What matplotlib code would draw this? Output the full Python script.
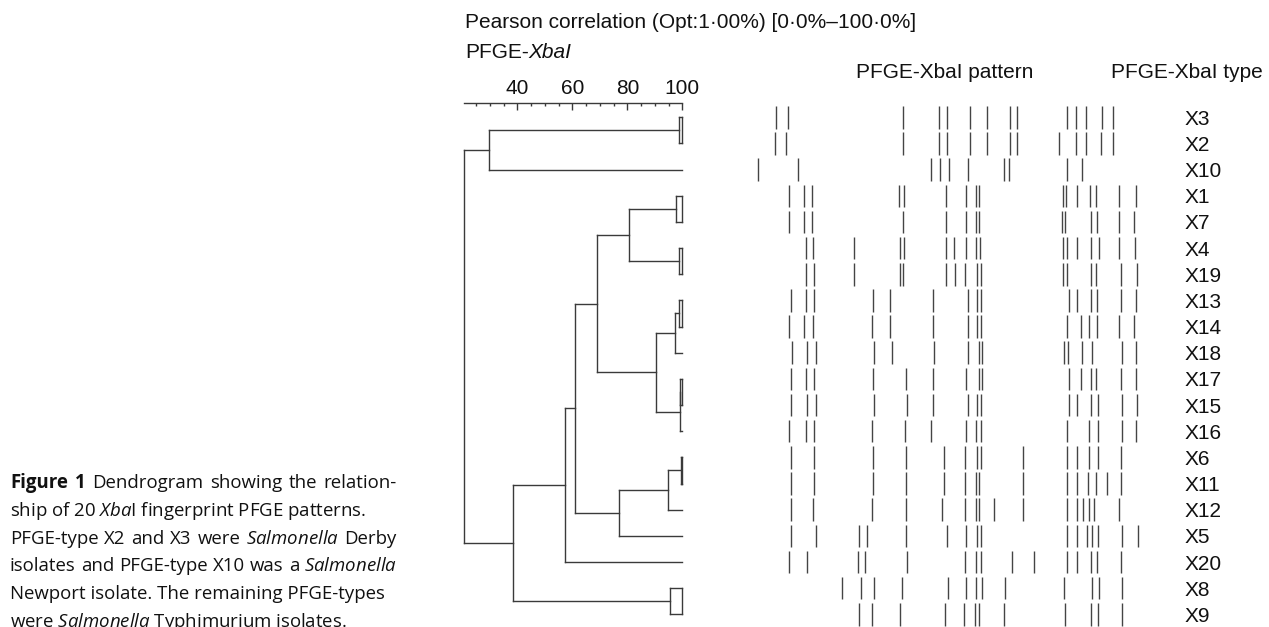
import matplotlib
matplotlib.use("Agg")
import matplotlib.pyplot as plt
from matplotlib.ticker import MultipleLocator
from matplotlib import font_manager

# Figure size in pixels
W, H = 1269, 627

# PFGE types, top to bottom as in the dendrogram
types = ['X3', 'X2', 'X10', 'X1', 'X7', 'X4', 'X19', 'X13', 'X14', 'X18',
         'X17', 'X15', 'X16', 'X6', 'X11', 'X12', 'X5', 'X20', 'X8', 'X9']

# Band positions along the gel lane (arbitrary migration units)
bands = {
    'X3':  [35.7, 47.7, 162.7, 199, 207.3, 230, 247.3, 270, 277.3, 326.7, 335.7, 345.7, 361.7, 372.7],
    'X2':  [34.7, 46, 162.7, 199, 207.3, 230, 247.3, 270, 277.3, 319.3, 335.7, 345.7, 360.7, 372.7],
    'X10': [17.7, 57.7, 191, 200, 208.7, 227.7, 263.7, 269.3, 326.7, 342],
    'X1':  [49.3, 64, 72.3, 158.7, 164.3, 205.7, 226, 235.7, 239.3, 323.3, 325.7, 337.3, 350, 356, 379.3, 395.7],
    'X7':  [49.3, 64, 72.3, 162.7, 205.7, 226, 235.7, 239.3, 321.7, 325, 351, 356.7, 379.3, 394.3],
    'X4':  [65.7, 73.3, 114, 160, 164.3, 205.7, 214.3, 226, 235.7, 240, 323.3, 326.7, 337.3, 351, 359.3, 379.3, 395],
    'X19': [65.7, 74, 114, 160, 163.3, 206, 215, 225, 237.3, 240.7, 323.3, 326.7, 350.7, 356, 380.7, 396.7],
    'X13': [50.7, 65.7, 74, 132.7, 150, 192.7, 227.7, 237.3, 240.7, 328.7, 337.3, 350.7, 357.3, 380.7, 396],
    'X14': [49.3, 64, 72.7, 131.7, 150, 192.7, 227.7, 237.3, 240.7, 326.7, 341, 349.3, 357, 379.3, 394.3],
    'X18': [51.7, 66.7, 75.7, 134, 151.7, 194, 227.7, 238.7, 242.3, 324.3, 328.3, 342, 352, 381.7, 396],
    'X17': [50.7, 65.7, 74, 132.7, 166, 192.7, 226, 238.7, 242.3, 328.7, 340.7, 350.7, 356, 380.7, 396],
    'X15': [50.7, 66.7, 75.7, 134, 167.3, 192.7, 227.7, 237.3, 240.7, 328.7, 337.3, 350.7, 358.3, 381.7, 396.7],
    'X16': [49.3, 65.7, 74, 131.7, 165, 191, 226, 235.7, 240.7, 326.7, 349.3, 358.3, 381.7, 396],
    'X6':  [50.7, 74, 132.7, 166, 204, 225, 237.3, 240.7, 282.7, 326.7, 336.7, 349.3, 358.3, 380.7],
    'X11': [50.7, 74, 132.7, 166, 204, 225, 235.7, 239.3, 282.7, 326.7, 336.7, 348.3, 356, 367.3, 380.7],
    'X12': [50.7, 72.7, 131.7, 166, 202.3, 225, 235.7, 239.3, 254, 282.7, 326.7, 336.7, 343.3, 349.3, 354.3, 379.3],
    'X5':  [50.7, 75.7, 119, 126.7, 166, 207.3, 226, 237.3, 240.7, 326.7, 336.7, 346.7, 352, 358, 381.7, 398.3],
    'X20': [49.3, 66.7, 117.7, 125.3, 167.3, 225, 236, 240.7, 272.3, 294.3, 326.7, 336.7, 350.7, 356.7, 380.7],
    'X8':  [101.7, 120.7, 134, 161.7, 207.7, 226, 236, 242.3, 265, 324.3, 352, 359.3, 381.7],
    'X9':  [119, 131.7, 160, 205, 224, 235, 239.3, 264, 325, 350.7, 358.3, 381.7],
}

# Dendrogram merges: node name, left child, right child, similarity (%)
node_names = ['A', 'B', 'C', 'D', 'E', 'H', 'I', 'J', 'K', 'G',
              'F', 'L', 'M', 'N', 'O', 'P', 'Q', 'R', 'root']
node_left = ['X3', 'A', 'X1', 'X4', 'C', 'X13', 'H', 'X17', 'J', 'I',
             'E', 'X6', 'L', 'M', 'F', 'O', 'X8', 'P', 'B']
node_right = ['X2', 'X10', 'X7', 'X19', 'D', 'X14', 'X18', 'X15', 'X16', 'K',
              'G', 'X11', 'X12', 'X5', 'N', 'X20', 'X9', 'Q', 'R']
node_sim = [98.9, 29.8, 97.7, 98.9, 80.6, 98.8, 97.2, 99.2, 99.0, 90.5,
            68.9, 99.6, 94.9, 76.9, 61.0, 57.3, 95.5, 38.3, 20.6]

# caption lines; *word* = bold, $\mathit{..}$ = italic
caption = [
    r"*Figure* *1* Dendrogram showing the relation-",
    r"ship of 20 $\mathit{Xba}$I fingerprint PFGE patterns.",
    r"PFGE-type X2 and X3 were $\mathit{Salmonella}$ Derby",
    r"isolates and PFGE-type X10 was a $\mathit{Salmonella}$",
    r"Newport isolate. The remaining PFGE-types",
    r"were $\mathit{Salmonella}$ Typhimurium isolates.",
]
caption_justify = [True, False, True, True, False, False]


# caption font: first humanist sans that has a real bold face
cap_family = 'Noto Sans'
for fam in ['Noto Sans', 'Open Sans', 'Lato', 'DejaVu Sans']:
    path = font_manager.findfont(font_manager.FontProperties(family=fam, weight='bold'),
                                 fallback_to_default=False)
    if 'bold' in path.lower():
        cap_family = fam
        break

plt.rcParams['font.family'] = 'Liberation Sans'
plt.rcParams['mathtext.fontset'] = 'custom'
plt.rcParams['mathtext.rm'] = cap_family
plt.rcParams['mathtext.it'] = cap_family + ':italic'
plt.rcParams['mathtext.bf'] = cap_family + ':bold'

line_col = '#3a3a3a'
band_col = '#444444'
txt_col = '#111111'
cap_size = 13.4


def frac(x0, y0, x1, y1):
    return [x0 / W, 1 - y1 / H, (x1 - x0) / W, (y1 - y0) / H]


fig = plt.figure(figsize=(W / 100, H / 100), dpi=100)
ylim = (19.5, -0.56)

# ---- dendrogram ----
ax_d = fig.add_axes(frac(464.0, 102.65, 682.3, 627.4))
ax_d.set_xlim(20.6, 100)
ax_d.set_ylim(*ylim)

ypos = {t: i for i, t in enumerate(types)}
xpos = {t: 100.0 for t in types}
for name, l, r, s in zip(node_names, node_left, node_right, node_sim):
    yl, yr = ypos[l], ypos[r]
    ax_d.plot([s, xpos[l]], [yl, yl], color=line_col, lw=1.0, clip_on=False)
    ax_d.plot([s, xpos[r]], [yr, yr], color=line_col, lw=1.0, clip_on=False)
    ax_d.plot([s, s], [yl, yr], color=line_col, lw=1.0, clip_on=False)
    if l in types and r in types:
        # closed box for two leaves joined near 100%
        ax_d.plot([100, 100], [yl, yr], color=line_col, lw=1.0, clip_on=False)
    ypos[name] = (yl + yr) / 2
    xpos[name] = s

for side in ['left', 'right', 'bottom']:
    ax_d.spines[side].set_visible(False)
ax_d.spines['top'].set_color(line_col)
ax_d.spines['top'].set_linewidth(1.0)
ax_d.set_yticks([])
ax_d.xaxis.tick_top()
ax_d.xaxis.set_major_locator(MultipleLocator(20))
ax_d.xaxis.set_minor_locator(MultipleLocator(5))
ax_d.tick_params(axis='x', which='major', direction='in', length=4.8, width=1.0,
                 color=line_col, labelsize=15, labelcolor=txt_col, pad=3.5)
ax_d.tick_params(axis='x', which='minor', direction='in', length=2.2, width=1.0,
                 color=line_col)
ax_d.patch.set_visible(False)

# ---- band patterns ----
ax_b = fig.add_axes(frac(740, 102.65, 1150, 627.4))
ax_b.set_xlim(0, 410)
ax_b.set_ylim(*ylim)
for i, t in enumerate(types):
    ax_b.vlines(bands[t], i - 0.43, i + 0.43, color=band_col, lw=1.0)
for side in ax_b.spines:
    ax_b.spines[side].set_visible(False)
ax_b.set_xticks([])
ax_b.yaxis.tick_right()
ax_b.set_yticks(range(len(types)))
ax_b.set_yticklabels(types)
ax_b.tick_params(axis='y', length=0, pad=25, labelsize=15, colors=txt_col)
ax_b.patch.set_visible(False)

# ---- headers ----
fig.text(465 / W, 1 - 28.5 / H, "Pearson correlation (Opt:1·00%) [0·0%–100·0%]",
         fontsize=15, va='baseline', color=txt_col)
t1 = fig.text(465 / W, 1 - 58.5 / H, "PFGE-", fontsize=15, va='baseline', color=txt_col)
ax_d.annotate("XbaI", xy=(1, 0), xycoords=t1, va='bottom', annotation_clip=False,
              fontsize=15, style='italic', color=txt_col)
fig.text(856 / W, 1 - 78 / H, "PFGE-XbaI pattern", fontsize=15, va='baseline', color=txt_col)
fig.text(1263 / W, 1 - 78 / H, "PFGE-XbaI type", fontsize=15, va='baseline',
         ha='right', color=txt_col)

# ---- caption (lines 1, 3, 4 justified like the journal layout) ----
renderer = fig.canvas.get_renderer()
cap_left, cap_right = 10, 397
for k, line in enumerate(caption):
    y = 1 - (488.3 + 27.65 * k) / H
    if not caption_justify[k]:
        fig.text(cap_left / W, y, line, fontsize=cap_size, family=cap_family,
                 va='baseline', color=txt_col)
        continue
    words = line.split(' ')
    texts = []
    for w in words:
        bold = w.startswith('*')
        texts.append(fig.text(0, y, w.strip('*'), fontsize=cap_size, family=cap_family,
                              weight='bold' if bold else 'normal',
                              va='baseline', color=txt_col))
    widths = [t.get_window_extent(renderer).width for t in texts]
    gap = (cap_right - cap_left - sum(widths)) / (len(texts) - 1)
    x = cap_left
    for t, wd in zip(texts, widths):
        t.set_x(x / W)
        x += wd + gap

fig.savefig('out.png', dpi=100)
